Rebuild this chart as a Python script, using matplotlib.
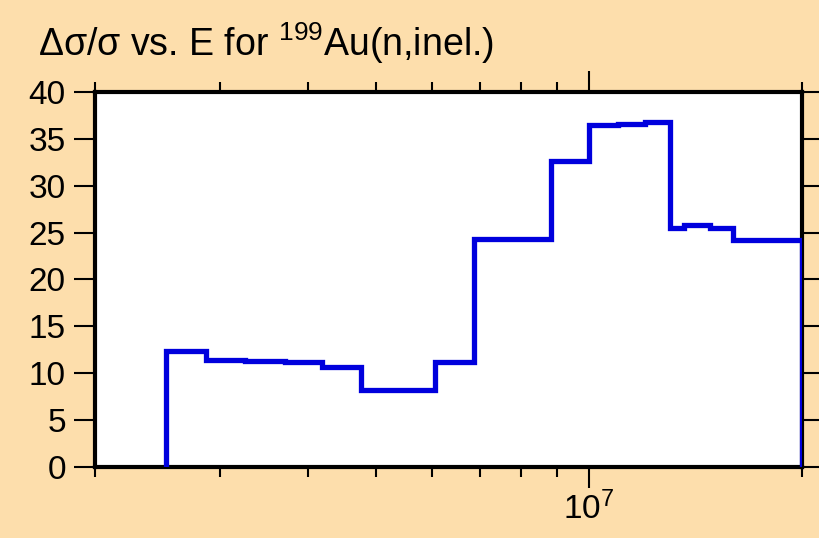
import matplotlib
matplotlib.use("Agg")
import matplotlib.pyplot as plt
from matplotlib.ticker import FixedLocator, NullFormatter

# bin edges (eV) and relative uncertainty (%)
edges = [2.52e6, 2.87e6, 3.26e6, 3.71e6, 4.19e6, 4.75e6, 6.05e6, 6.87e6, 8.83e6,
         1.0e7, 1.1e7, 1.2e7, 1.3e7, 1.36e7, 1.48e7, 1.6e7, 2.0e7]
values = [12.4, 11.4, 11.3, 11.2, 10.6, 8.2, 11.2, 24.3, 32.6,
          36.5, 36.6, 36.8, 25.5, 25.8, 25.5, 24.2]
yticks = list(range(0, 41, 5))
xminor = [2e6, 3e6, 4e6, 5e6, 6e6, 7e6, 8e6, 9e6, 2e7]

plt.rcParams['font.family'] = ['Liberation Sans', 'DejaVu Sans']
plt.rcParams['mathtext.fontset'] = 'custom'
plt.rcParams['mathtext.rm'] = 'Liberation Sans'
plt.rcParams['mathtext.it'] = 'Liberation Sans'
plt.rcParams['mathtext.default'] = 'regular'

bg = '#fddeac'
fig = plt.figure(figsize=(8.2, 5.38), dpi=100, facecolor=bg)
ax = fig.add_axes([0.1159, 0.1325, 0.978 - 0.1159, 0.829 - 0.1325])
ax.set_facecolor('white')

ax.stairs(values, edges, baseline=0, color='#0000dd', linewidth=3.8, zorder=3)

ax.set_xscale('log')
ax.set_xlim(2e6, 2e7)
ax.set_ylim(0, 40)
ax.xaxis.set_major_locator(FixedLocator([1e7]))
ax.xaxis.set_minor_locator(FixedLocator(xminor))
ax.xaxis.set_minor_formatter(NullFormatter())
ax.set_yticks(yticks)

for s in ax.spines.values():
    s.set_linewidth(3)
ax.tick_params(axis='both', which='both', direction='out', top=True, right=True,
               width=1.5, color='black', labelsize=24)
ax.tick_params(axis='x', which='major', length=15, pad=3)
ax.tick_params(axis='x', which='minor', length=7)
ax.tick_params(axis='y', which='major', length=15, pad=6)

fig.text(0.046, 0.895, r'Δσ/σ vs. E for $^{199}$Au(n,inel.)', fontsize=27,
         ha='left', va='baseline')

fig.savefig('out.png', dpi=100, facecolor=bg)
